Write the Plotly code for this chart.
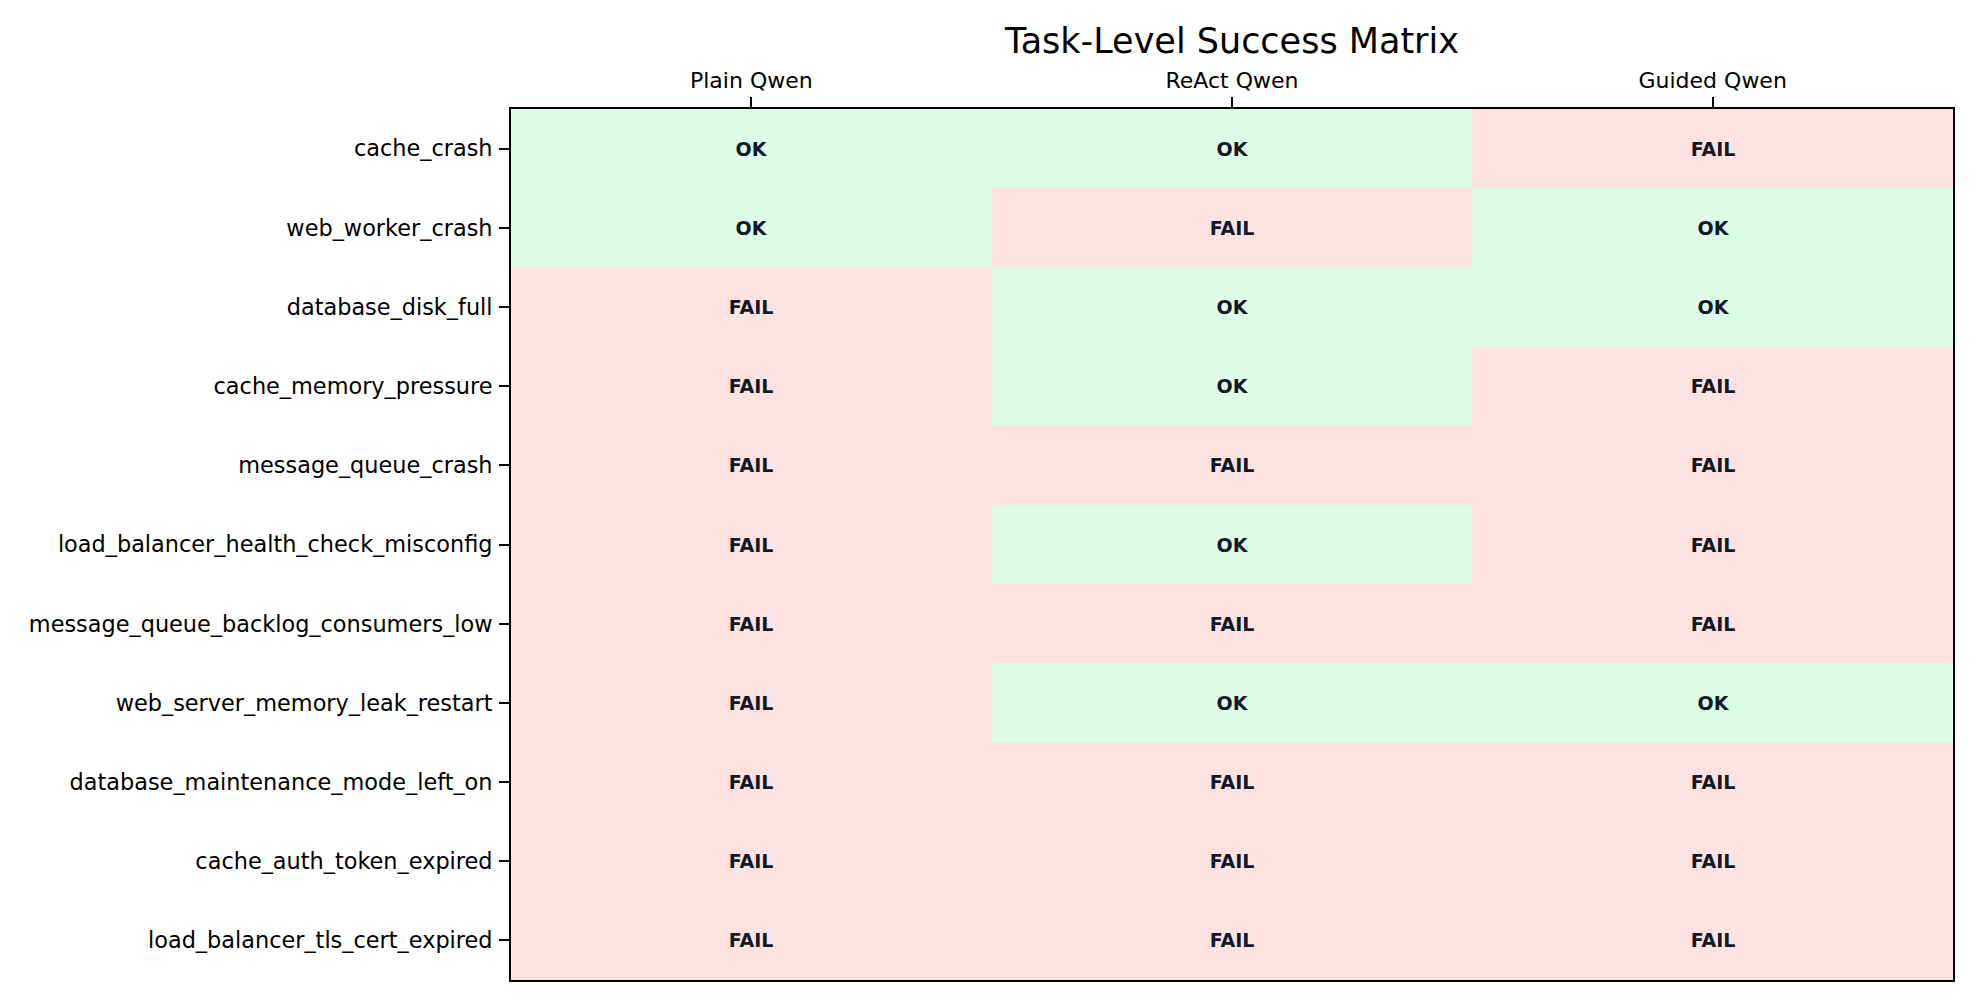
import plotly.graph_objects as go

tasks = [
    "cache_crash",
    "web_worker_crash",
    "database_disk_full",
    "cache_memory_pressure",
    "message_queue_crash",
    "load_balancer_health_check_misconfig",
    "message_queue_backlog_consumers_low",
    "web_server_memory_leak_restart",
    "database_maintenance_mode_left_on",
    "cache_auth_token_expired",
    "load_balancer_tls_cert_expired",
]
agents = ["Plain Qwen", "ReAct Qwen", "Guided Qwen"]

plain_qwen = [1, 1, 0, 0, 0, 0, 0, 0, 0, 0, 0]
react_qwen = [1, 0, 1, 1, 0, 1, 0, 1, 0, 0, 0]
guided_qwen = [0, 1, 1, 0, 0, 0, 0, 1, 0, 0, 0]

columns = [plain_qwen, react_qwen, guided_qwen]
z = [[col[i] for col in columns] for i in range(len(tasks))]
text = [["OK" if v else "FAIL" for v in row] for row in z]

FAIL_COLOR = "#fee2e2"
OK_COLOR = "#dcfce7"

fig = go.Figure(
    go.Heatmap(
        z=z,
        x=agents,
        y=tasks,
        text=text,
        texttemplate="%{text}",
        textfont=dict(family="DejaVu Sans", size=19, color="#111827", weight="bold"),
        colorscale=[[0, FAIL_COLOR], [0.5, FAIL_COLOR], [0.5, OK_COLOR], [1, OK_COLOR]],
        zmin=0,
        zmax=1,
        showscale=False,
        hoverinfo="skip",
        xgap=0,
        ygap=0,
    )
)

fig.update_layout(
    width=1980,
    height=1007,
    margin=dict(l=511, r=27, t=109, b=27),
    paper_bgcolor="white",
    plot_bgcolor="white",
    font=dict(family="DejaVu Sans", color="black", size=22),
    title=dict(
        text="Task-Level Success Matrix",
        x=0.5,
        xref="paper",
        xanchor="center",
        y=1 - 41 / 1007,
        yref="container",
        yanchor="middle",
        font=dict(family="DejaVu Sans", size=35, color="black"),
    ),
)

fig.update_xaxes(
    side="top",
    showline=True,
    mirror=True,
    linecolor="black",
    linewidth=2,
    ticks="outside",
    ticklen=10,
    tickwidth=2,
    tickcolor="black",
    tickfont=dict(family="DejaVu Sans", size=22, color="black"),
    showgrid=False,
    zeroline=False,
    fixedrange=True,
)
fig.update_yaxes(
    autorange="reversed",
    showline=True,
    mirror=True,
    linecolor="black",
    linewidth=2,
    ticks="outside",
    ticklen=10,
    tickwidth=2,
    tickcolor="black",
    ticklabelstandoff=2,
    tickfont=dict(family="DejaVu Sans", size=22.4, color="black"),
    showgrid=False,
    zeroline=False,
    fixedrange=True,
)

fig.write_html("out.html")
